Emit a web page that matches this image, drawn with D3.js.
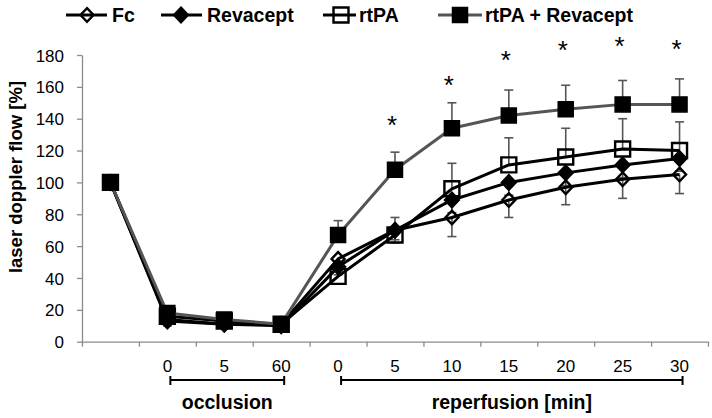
<!DOCTYPE html>
<html><head><meta charset="utf-8">
<script src="https://cdn.jsdelivr.net/npm/d3@7"></script>
<style>
html,body{margin:0;padding:0;background:#fff;}
text{font-family:"Liberation Sans",Arial,sans-serif;}
</style></head>
<body><svg id="c" width="712" height="418"></svg>
<script>
// ---- data ----
const categories = ["", "0", "5", "60", "0", "5", "10", "15", "20", "25", "30"];
const seriesNames = ["Fc", "Revacept", "rtPA", "rtPA + Revacept"];
const fcValues       = [100, 14, 11, 11, 52, 70, 78, 89, 97, 102, 105];
const revaceptValues = [100, 13, 11, 10, 47, 70, 89, 100, 106, 111, 115];
const rtpaValues     = [100, 16, 13, 11, 41, 67, 96, 111, 116, 121, 120];
const comboValues    = [100, 18, 14, 11, 67, 108, 134, 142, 146, 149, 149];
const fcErr       = [0, 3, 2, 2, 5, 8, 12, 11, 11, 12, 12];   // drawn downward
const revaceptErr = [0, 3, 2, 2, 5, 6, 8, 8, 8, 8, 8];        // drawn downward
const rtpaErr     = [0, 3, 2, 2, 5, 11, 16, 17, 18, 19, 18];  // drawn upward
const comboErr    = [0, 3, 2, 2, 9, 11, 16, 16, 15, 15, 16];  // drawn upward
const yTicks = [0, 20, 40, 60, 80, 100, 120, 140, 160, 180];
const starIdx = [5, 6, 7, 8, 9, 10];
const starValues = [139, 164, 180, 186, 189, 187];
const groupLabels = ["occlusion", "reperfusion [min]"];
const groupRanges = [[1, 3], [4, 10]];

// ---- layout ----
const svg = d3.select("#c");
const L = 82, R = 708, T = 55, B = 341.7;
const x = d3.scaleBand().domain(d3.range(categories.length)).range([L, R]).padding(0);
const xb = d3.scaleLinear().domain([0, categories.length]).range([L, R]);
const y = d3.scaleLinear().domain([0, 180]).range([B, T]);
const cx = i => x(i) + x.bandwidth() / 2;

// y axis
const ya = svg.append("g").attr("transform", `translate(${L},0)`)
  .call(d3.axisLeft(y).tickValues(yTicks).tickSize(5).tickSizeOuter(0).tickPadding(13));
ya.select(".domain").attr("stroke", "#8c8c8c").attr("stroke-width", 1.3);
ya.selectAll(".tick line").attr("stroke", "#8c8c8c").attr("stroke-width", 1.3);
ya.selectAll(".tick text").attr("font-size", 17).attr("fill", "#000")
  .attr("font-family", "Liberation Sans, Arial, sans-serif").attr("dy", "0.36em");

// x axis line with boundary ticks
const xa = svg.append("g").attr("transform", `translate(0,${B})`)
  .call(d3.axisBottom(xb).tickValues(d3.range(categories.length + 1)).tickSize(5).tickSizeOuter(0).tickFormat(""));
xa.select(".domain").attr("stroke", "#8c8c8c").attr("stroke-width", 1.3);
xa.selectAll(".tick line").attr("stroke", "#8c8c8c").attr("stroke-width", 1.3);
// category labels
const xl = svg.append("g").attr("transform", `translate(0,${B})`)
  .call(d3.axisBottom(x).tickSize(0).tickPadding(18).tickFormat(i => categories[i]));
xl.select(".domain").remove();
xl.selectAll(".tick text").attr("font-size", 17).attr("fill", "#000")
  .attr("font-family", "Liberation Sans, Arial, sans-serif");

// group brackets
groupRanges.forEach((r, k) => {
  const x0 = cx(r[0]) + 3, x1 = cx(r[1]) + 3, yy = 380;
  const g = svg.append("g").attr("stroke", "#000").attr("stroke-width", 2);
  g.append("line").attr("x1", x0).attr("x2", x1).attr("y1", yy).attr("y2", yy);
  g.append("line").attr("x1", x0).attr("x2", x0).attr("y1", yy - 4).attr("y2", yy + 5);
  g.append("line").attr("x1", x1).attr("x2", x1).attr("y1", yy - 4).attr("y2", yy + 5);
  svg.append("text").attr("x", (x0 + x1) / 2).attr("y", 409).attr("text-anchor", "middle")
    .attr("font-size", 19.5).attr("font-weight", "bold").text(groupLabels[k]);
});

// y title
svg.append("text").attr("transform", "translate(22,177) rotate(-90)")
  .attr("text-anchor", "middle").attr("font-size", 18.5).attr("font-weight", "bold")
  .text("laser doppler flow [%]");

// series
const series = [
  {name: seriesNames[0], v: fcValues, e: fcErr, dir: -1, color: "#000", marker: "diamond", fill: "none", size: 13},
  {name: seriesNames[1], v: revaceptValues, e: revaceptErr, dir: -1, color: "#000", marker: "diamond", fill: "#000", size: 15},
  {name: seriesNames[2], v: rtpaValues, e: rtpaErr, dir: 1, color: "#000", marker: "square", fill: "none", size: 15},
  {name: seriesNames[3], v: comboValues, e: comboErr, dir: 1, color: "#555", marker: "square", fill: "#000", size: 15}
];

function markerPath(type, s) {
  const h = s / 2;
  if (type === "square") return `M${-h},${-h}H${h}V${h}H${-h}Z`;
  return `M0,${-h * 1.05}L${h},0L0,${h * 1.05}L${-h},0Z`;
}

// error bars
const errG = svg.append("g");
series.forEach(s => {
  s.v.forEach((v, i) => {
    if (!s.e[i]) return;
    const y0 = y(v), y1 = y(v + s.dir * s.e[i]);
    errG.append("line").attr("x1", cx(i)).attr("x2", cx(i)).attr("y1", y0).attr("y2", y1)
      .attr("stroke", "#555").attr("stroke-width", 1.6);
    errG.append("line").attr("x1", cx(i) - 4.5).attr("x2", cx(i) + 4.5).attr("y1", y1).attr("y2", y1)
      .attr("stroke", "#555").attr("stroke-width", 1.6);
  });
});

const line = d3.line().x((d, i) => cx(i)).y(d => y(d));
series.forEach(s => {
  const g = svg.append("g");
  g.append("path").attr("d", line(s.v)).attr("fill", "none").attr("stroke", s.color)
    .attr("stroke-width", 3).attr("stroke-linejoin", "round");
  g.selectAll("path.m").data(s.v).join("path").attr("class", "m")
    .attr("d", markerPath(s.marker, s.size))
    .attr("transform", (d, i) => `translate(${cx(i)},${y(d)})`)
    .attr("fill", s.fill).attr("stroke", "#000").attr("stroke-width", s.fill === "none" ? 2.4 : 1.5);
});

// significance stars
svg.append("g").selectAll("text").data(starIdx).join("text")
  .attr("x", (d) => cx(d) - 3).attr("y", (d, k) => y(starValues[k]) + 14)
  .attr("text-anchor", "middle").attr("font-size", 26).text("*");

// legend
const legendLayout = [
  {x0: 66, x1: 107, m: 87, t: 112},
  {x0: 161, x1: 202, m: 181, t: 207},
  {x0: 323, x1: 356, m: 341, t: 359},
  {x0: 438, x1: 482, m: 460, t: 485}
];
const ly = 15;
series.forEach((s, k) => {
  const p = legendLayout[k];
  const g = svg.append("g");
  g.append("line").attr("x1", p.x0).attr("x2", p.x1).attr("y1", ly).attr("y2", ly)
    .attr("stroke", s.color).attr("stroke-width", 3);
  g.append("path").attr("d", markerPath(s.marker, s.size)).attr("transform", `translate(${p.m},${ly})`)
    .attr("fill", s.fill).attr("stroke", "#000").attr("stroke-width", s.fill === "none" ? 2.4 : 1.5);
  g.append("text").attr("x", p.t).attr("y", ly + 7).attr("font-size", 19.5).attr("font-weight", "bold")
    .text(s.name);
});
</script></body></html>
